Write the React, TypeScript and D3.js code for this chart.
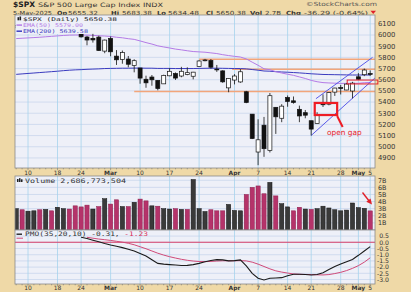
import React from "react";
import * as d3 from "d3";

const dates = [
  "2025-02-06","2025-02-07","2025-02-10","2025-02-11","2025-02-12","2025-02-13","2025-02-14","2025-02-18","2025-02-19","2025-02-20","2025-02-21","2025-02-24","2025-02-25","2025-02-26","2025-02-27","2025-02-28",
  "2025-03-03","2025-03-04","2025-03-05","2025-03-06","2025-03-07","2025-03-10","2025-03-11","2025-03-12","2025-03-13","2025-03-14","2025-03-17","2025-03-18","2025-03-19","2025-03-20","2025-03-21","2025-03-24","2025-03-25","2025-03-26","2025-03-27","2025-03-28","2025-03-31",
  "2025-04-01","2025-04-02","2025-04-03","2025-04-04","2025-04-07","2025-04-08","2025-04-09","2025-04-10","2025-04-11","2025-04-14","2025-04-15","2025-04-16","2025-04-17","2025-04-21","2025-04-22","2025-04-23","2025-04-24","2025-04-25","2025-04-28","2025-04-29","2025-04-30",
  "2025-05-01","2025-05-02","2025-05-05",
];

const opens = [6072,6083,6046,6050,6026,6060,6115,6121,6118,6134,6114,6026,5982,5970,5981,5856,5969,5811,5782,5785,5726,5705,5604,5624,5594,5563,5635,5655,5633,5646,5631,5718,5772,5772,5695,5679,5527,5597,5580,5492,5292,4953,5193,4966,5353,5255,5441,5411,5335,5305,5233,5207,5395,5381,5489,5529,5508,5499,5626,5645,5655];
const highs = [6084,6101,6074,6076,6063,6116,6127,6130,6147,6134,6115,6043,5992,6010,5994,5959,5987,5865,5861,5812,5783,5705,5636,5642,5597,5645,5703,5665,5715,5711,5670,5775,5786,5785,5732,5685,5615,5650,5695,5500,5292,5246,5267,5481,5353,5381,5459,5450,5368,5329,5233,5309,5469,5490,5528,5553,5571,5581,5659,5700,5683];
const lows = [6060,6020,6044,6042,6003,6051,6107,6100,6111,6084,6009,5977,5908,5932,5858,5837,5810,5732,5743,5711,5666,5564,5528,5546,5505,5563,5631,5598,5622,5640,5603,5718,5765,5699,5670,5572,5488,5558,5572,5390,5069,4835,4910,4949,5115,5220,5358,5386,5220,5255,5101,5207,5356,5371,5455,5468,5506,5433,5597,5632,5634];
const closes = [6083.57,6025.99,6066.44,6068.5,6051.97,6115.07,6114.63,6129.58,6144.15,6117.52,6013.13,5983.25,5955.25,5956.06,5861.57,5954.5,5849.72,5778.15,5842.63,5738.52,5770.2,5614.56,5572.07,5599.3,5521.52,5638.94,5675.12,5614.66,5675.29,5662.89,5667.56,5767.57,5776.65,5712.2,5693.31,5580.94,5611.85,5633.07,5670.97,5396.52,5074.08,5062.25,4982.77,5456.9,5268.05,5363.36,5405.97,5396.63,5275.7,5282.7,5158.2,5287.76,5375.86,5484.77,5525.21,5528.75,5560.83,5569.06,5604.14,5686.67,5650.38];
const prevClose = 6061.48;

const ema50 = [5968,5971,5974,5977,5980,5984,5988,5992,5996,5999,6000,6000,5999,5997,5993,5991,5987,5980,5975,5967,5961,5947,5932,5919,5903,5893,5884,5874,5867,5859,5852,5849,5846,5840,5834,5824,5816,5809,5803,5786,5757,5729,5698,5689,5672,5660,5649,5639,5625,5611,5594,5582,5574,5571,5569,5567,5567,5567,5568,5573,5576];
const ema200 = [5648,5652,5656,5660,5664,5668,5672,5676,5681,5685,5688,5690,5693,5695,5697,5700,5701,5702,5703,5703,5704,5704,5703,5703,5701,5701,5701,5700,5700,5700,5700,5701,5702,5703,5703,5702,5701,5700,5700,5697,5691,5685,5678,5676,5672,5669,5667,5664,5661,5657,5653,5650,5647,5646,5645,5644,5643,5642,5642,5642,5642];

const volumes = [3.0,2.85,2.65,2.7,2.85,2.9,2.7,3.2,3.0,2.95,3.4,3.25,3.5,2.95,3.3,4.4,3.65,4.25,3.3,3.3,3.9,4.35,4.1,3.4,3.35,3.0,2.95,3.0,2.9,2.9,7.1,3.0,2.6,2.85,2.7,2.7,3.6,2.75,2.7,5.0,6.0,6.2,5.1,6.7,4.8,3.7,3.25,2.7,3.2,2.95,2.9,3.0,3.35,3.1,2.85,2.7,2.8,3.8,3.15,3.05,2.69];

const pmo: (number | null)[] = [null,null,null,null,null,null,null,null,null,null,null,
  0.40,0.30,0.17,0.05,-0.10,-0.22,-0.32,-0.43,-0.56,-0.70,-0.90,-1.10,-1.40,-1.70,-1.76,-1.80,-1.83,-1.87,-1.86,-1.80,-1.70,-1.57,-1.47,-1.40,-1.42,-1.50,-1.48,-1.42,-1.90,-2.50,-2.90,-3.04,-2.90,-2.88,-2.85,-2.70,-2.58,-2.58,-2.60,-2.64,-2.60,-2.45,-2.20,-1.95,-1.75,-1.56,-1.38,-1.05,-0.70,-0.35];
const pmoSignal: (number | null)[] = [null,null,null,null,null,null,null,null,null,null,null,null,
  0.40,0.33,0.26,0.21,0.15,0.08,0.01,-0.08,-0.20,-0.36,-0.52,-0.70,-0.88,-1.03,-1.16,-1.27,-1.37,-1.45,-1.51,-1.55,-1.56,-1.54,-1.51,-1.49,-1.49,-1.49,-1.48,-1.50,-1.60,-1.76,-1.95,-2.14,-2.30,-2.40,-2.48,-2.55,-2.58,-2.59,-2.60,-2.62,-2.63,-2.60,-2.52,-2.42,-2.28,-2.10,-1.88,-1.60,-1.25];

const tickDates = ["2025-02-10","2025-02-18","2025-02-24","2025-03-03","2025-03-10","2025-03-17","2025-03-24","2025-04-01","2025-04-07","2025-04-14","2025-04-21","2025-04-28","2025-05-01","2025-05-05"];
const tickTexts = ["10","18","24","Mar","10","17","24","Apr","7","14","21","28","May","5"];
const priceTicks = [6100,6000,5900,5800,5700,5600,5500,5400,5300,5200,5100,5000,4900];
const volTicks = [7,6,5,4,3,2,1];
const pmoTicks = [0.5,0,-0.5,-1,-1.5,-2,-2.5,-3];

// header segments
const headerTexts = ["5-May-2025","Op","5655.32","Hi","5683.38","Lo","5634.48","Cl","5650.38","Vol","2.7B","Chg","-36.29 (-0.64%)"];
const headerBold = [false,true,false,true,false,true,false,true,false,true,false,true,false];

// annotations (data coordinates: bar index, price)
const levelValues = [5495, 5783, 5693];
const levelStartIdx = [20, 31, 36.6];
const trendUpper = [[50.8, 5430], [60.4, 5800]];
const trendLower = [[50, 5101], [60.8, 5615]];
const openGapBox = [50.6, 54.4, 5392, 5284];
const mayGapBox = [56.1, 61.3, 5597, 5562];

const TAN = "#efd9a7";
const PLOT_BG = "#eef0f8";
const HGRID = "#c9d5ec";
const VGRID = "#a6d3ec";
const PINK = "#b5336a";
const DARK = "#3a3a3a";
const PURPLE = "#b47be6";
const BLUE = "#3b3bbf";
const ORANGE = "#f2a57a";
const SANS = "DejaVu Sans, Verdana, sans-serif";
const MONO = "DejaVu Sans Mono, Liberation Mono, monospace";

const L = 15, R = 375;
const MAIN = { top: 15, bottom: 168 };
const VOL = { top: 176, bottom: 230 };
const PMOP = { top: 230, bottom: 284 };

// header layout (x start, width)
const headerX = [13, 57, 68, 111, 122, 157, 168, 206, 216, 250, 265, 286, 304];
const headerW = [39, 10, 30, 8, 30, 9, 31, 7, 30, 12, 16, 15, 64];

export default function App() {
  const x = d3.scaleLinear().domain([0, 60]).range([16.2, 370.2]);
  const yM = d3.scaleLinear().domain([4810, 6179]).range([MAIN.bottom, MAIN.top]);
  const yV = d3.scaleLinear().domain([0, 7.6]).range([VOL.bottom, VOL.top]);
  const yP = d3.scaleLinear().domain([-3.36, 0.99]).range([PMOP.bottom, PMOP.top]);

  const tickIdx = tickDates.map((d) => dates.indexOf(d));
  const lineMain = d3.line<number>().x((_, i) => x(i)).y((v) => yM(v));
  const linePmo = d3
    .line<number | null>()
    .defined((v) => v !== null)
    .x((_, i) => x(i))
    .y((v) => yP(v as number));
  const lineXY = d3.line<number[]>().x((p) => x(p[0])).y((p) => yM(p[1]));

  const vgrid = (top: number, bottom: number) =>
    tickIdx.map((i, k) => (
      <line key={"vg" + k} x1={x(i)} x2={x(i)} y1={top} y2={bottom} stroke={VGRID} strokeWidth={0.8} />
    ));

  const dayTicks = (y0: number) =>
    dates.map((_, i) => (
      <line key={"dt" + i} x1={x(i)} x2={x(i)} y1={y0} y2={y0 + (tickIdx.includes(i) ? 2.2 : 1.3)} stroke="#777" strokeWidth={0.6} />
    ));

  const xLabels = (y: number) =>
    tickIdx.map((i, k) => {
      const isMonth = /[A-Za-z]/.test(tickTexts[k]);
      return (
        <text key={"xl" + k} x={x(i)} y={y} fontSize={6} fontFamily={SANS} textAnchor="middle" fontWeight={isMonth ? "bold" : "normal"} fill="#333">
          {tickTexts[k]}
        </text>
      );
    });

  return (
    <svg width={411} height={300} style={{ position: "absolute", left: 0, top: 0, background: "#fff" }}>
      <defs>
        <clipPath id="cMain"><rect x={L} y={MAIN.top} width={R - L} height={MAIN.bottom - MAIN.top} /></clipPath>
        <clipPath id="cVol"><rect x={L} y={VOL.top} width={R - L} height={VOL.bottom - VOL.top} /></clipPath>
        <clipPath id="cPmo"><rect x={L} y={PMOP.top} width={R - L} height={PMOP.bottom - PMOP.top} /></clipPath>
      </defs>
      <rect x={0} y={0} width={411} height={292} fill={TAN} />

      {/* Header */}
      <text x={13} y={7.2} fontSize={7.4} fontWeight="bold" fontFamily={SANS} fill="#222" textLength={22} lengthAdjust="spacingAndGlyphs">$SPX</text>
      <text x={38} y={7} fontSize={6} fontFamily={SANS} fill="#333" textLength={125} lengthAdjust="spacingAndGlyphs">S&amp;P 500 Large Cap Index INDX</text>
      <text x={306} y={6.3} fontSize={5.6} fontFamily={SANS} fill="#555" textLength={71} lengthAdjust="spacingAndGlyphs">©StockCharts.com</text>
      <g fontSize={5.6} fontFamily={SANS} fill="#333">
        {headerTexts.map((t, k) => (
          <text key={"h" + k} x={headerX[k]} y={14.6} fontWeight={headerBold[k] ? "bold" : "normal"} textLength={headerW[k]} lengthAdjust="spacingAndGlyphs">{t}</text>
        ))}
      </g>
      <path d="M370.5,10.8 L376,10.8 L373.2,14.1 Z" fill="#e0202a" />

      {/* Main panel */}
      <rect x={L} y={MAIN.top} width={R - L} height={MAIN.bottom - MAIN.top} fill={PLOT_BG} />
      {priceTicks.map((v) => (
        <line key={"hg" + v} x1={L} x2={R} y1={yM(v)} y2={yM(v)} stroke={HGRID} strokeWidth={0.8} />
      ))}
      {vgrid(MAIN.top, MAIN.bottom)}
      <g clipPath="url(#cMain)">
        {levelValues.map((v, k) => (
          <line key={"lv" + k} x1={x(levelStartIdx[k])} x2={R} y1={yM(v)} y2={yM(v)} stroke={ORANGE} strokeWidth={1.4} />
        ))}
        <path d={lineMain(ema200) || ""} fill="none" stroke={BLUE} strokeWidth={1} />
        <path d={lineMain(ema50) || ""} fill="none" stroke={PURPLE} strokeWidth={1} />
        <path d={lineXY(trendUpper) || ""} fill="none" stroke="#4a4ae6" strokeWidth={0.9} />
        <path d={lineXY(trendLower) || ""} fill="none" stroke="#4a4ae6" strokeWidth={0.9} />
        {dates.map((_, i) => {
          const o = opens[i], c = closes[i];
          const up = c >= o;
          const top = yM(Math.max(o, c));
          const h = Math.max(0.8, Math.abs(yM(o) - yM(c)));
          return (
            <g key={"c" + i}>
              <line x1={x(i)} x2={x(i)} y1={yM(highs[i])} y2={yM(lows[i])} stroke="#111" strokeWidth={0.8} />
              <rect x={x(i) - 2} y={top} width={4} height={h} fill={up ? "#fff" : "#111"} stroke="#111" strokeWidth={0.7} />
            </g>
          );
        })}
      </g>
      {/* gap annotations */}
      <rect x={x(mayGapBox[0])} y={yM(mayGapBox[2])} width={x(mayGapBox[1]) - x(mayGapBox[0])} height={yM(mayGapBox[3]) - yM(mayGapBox[2])} fill="none" stroke="#e8202a" strokeWidth={1} />
      <rect x={x(openGapBox[0])} y={yM(openGapBox[2])} width={x(openGapBox[1]) - x(openGapBox[0])} height={yM(openGapBox[3]) - yM(openGapBox[2])} fill="none" stroke="#ee1c24" strokeWidth={2.2} />
      <line x1={x(openGapBox[1])} y1={yM(openGapBox[3]) + 1} x2={x(openGapBox[1]) + 5.5} y2={yM(openGapBox[3]) + 12} stroke="#ee1c24" strokeWidth={2} />
      <text x={327} y={134.5} fontSize={7.4} fontFamily={SANS} fill="#e8202a">open gap</text>

      {/* main legend (opaque) */}
      <rect x={L + 0.5} y={MAIN.top + 0.5} width={75} height={18.5} fill={PLOT_BG} />
      <rect x={L + 0.5} y={MAIN.top + 0.5} width={105} height={6.5} fill={PLOT_BG} />
      <g>
        <rect x={17.5} y={17.2} width={1.6} height={3.1} fill="#222" />
        <rect x={19.5} y={16.5} width={1.6} height={3.8} fill="#222" />
        <text x={23} y={20.8} fontSize={5.2} fontFamily={MONO} fill="#222" textLength={94} lengthAdjust="spacingAndGlyphs">$SPX (Daily) 5650.38</text>
        <line x1={16.5} x2={22} y1={25.1} y2={25.1} stroke={PURPLE} strokeWidth={1.5} />
        <text x={23} y={26.9} fontSize={5.2} fontFamily={MONO} fill={PURPLE} textLength={60} lengthAdjust="spacingAndGlyphs">EMA(50) 5579.00</text>
        <line x1={16.5} x2={22} y1={31.2} y2={31.2} stroke={BLUE} strokeWidth={1.5} />
        <text x={23} y={33} fontSize={5.2} fontFamily={MONO} fill={BLUE} textLength={65} lengthAdjust="spacingAndGlyphs">EMA(200) 5639.58</text>
      </g>
      <rect x={L} y={MAIN.top} width={R - L} height={MAIN.bottom - MAIN.top} fill="none" stroke="#8a8a8a" strokeWidth={0.8} />
      {priceTicks.map((v) => (
        <text key={"pl" + v} x={378} y={yM(v) + 2.4} fontSize={6.8} fontFamily={SANS} fill="#333">{v}</text>
      ))}
      {dayTicks(MAIN.bottom)}
      {xLabels(174.6)}

      {/* Volume panel */}
      <rect x={L} y={VOL.top} width={R - L} height={VOL.bottom - VOL.top} fill={PLOT_BG} />
      {volTicks.map((v) => (
        <line key={"vh" + v} x1={L} x2={R} y1={yV(v)} y2={yV(v)} stroke={HGRID} strokeWidth={0.8} />
      ))}
      {vgrid(VOL.top, VOL.bottom)}
      <g clipPath="url(#cVol)">
        {volumes.map((v, i) => {
          const prev = i === 0 ? prevClose : closes[i - 1];
          const up = closes[i] >= prev;
          return (
            <rect key={"v" + i} x={x(i) - 2.1} y={yV(v)} width={4.2} height={yV(0) - yV(v)} fill={up ? DARK : PINK} stroke={up ? "#111" : "#8c1d4a"} strokeWidth={0.5} />
          );
        })}
      </g>
      <rect x={17} y={179} width={1.5} height={3} fill="#222" />
      <rect x={19} y={178.2} width={1.5} height={3.8} fill="#222" />
      <rect x={21} y={179.3} width={1.5} height={2.7} fill="#222" />
      <text x={25} y={182.8} fontSize={6.2} fontFamily={MONO} fill="#333" textLength={101} lengthAdjust="spacingAndGlyphs">Volume 2,686,773,504</text>
      <line x1={362.5} y1={192.5} x2={369.5} y2={201.5} stroke="#e0202a" strokeWidth={1.4} />
      <path d="M372,204.5 L366.3,201.8 L370.6,198.5 Z" fill="#e0202a" />
      <rect x={L} y={VOL.top} width={R - L} height={VOL.bottom - VOL.top} fill="none" stroke="#8a8a8a" strokeWidth={0.8} />
      {volTicks.map((v) => (
        <text key={"vl" + v} x={378} y={yV(v) + 2.3} fontSize={6.4} fontFamily={SANS} fill="#333">{v + "B"}</text>
      ))}

      {/* PMO panel */}
      <rect x={L} y={PMOP.top} width={R - L} height={PMOP.bottom - PMOP.top} fill={PLOT_BG} />
      {pmoTicks.map((v) => (
        <line key={"ph" + v} x1={L} x2={R} y1={yP(v)} y2={yP(v)} stroke={HGRID} strokeWidth={0.8} />
      ))}
      {vgrid(PMOP.top, PMOP.bottom)}
      <line x1={L} x2={R} y1={yP(0)} y2={yP(0)} stroke="#d9406a" strokeWidth={1.1} />
      <g clipPath="url(#cPmo)">
        <path d={linePmo(pmoSignal) || ""} fill="none" stroke="#d04a78" strokeWidth={1} />
        <path d={linePmo(pmo) || ""} fill="none" stroke="#1a1a1a" strokeWidth={1.1} />
      </g>
      <line x1={16.5} x2={22} y1={234.2} y2={234.2} stroke="#222" strokeWidth={1.4} />
      <line x1={16.5} x2={23} y1={238.2} y2={238.2} stroke="#d04a78" strokeWidth={1} />
      <text x={25} y={236.3} fontSize={6.2} fontFamily={MONO} fill="#333" textLength={123} lengthAdjust="spacingAndGlyphs">
        PMO(35,20,10) -0.31, <tspan fill="#d9305a">-1.23</tspan>
      </text>
      <rect x={L} y={PMOP.top} width={R - L} height={PMOP.bottom - PMOP.top} fill="none" stroke="#8a8a8a" strokeWidth={0.8} />
      {pmoTicks.map((v) => (
        <text key={"pt" + v} x={389} y={yP(v) + 2.3} fontSize={6.2} fontFamily={SANS} fill="#333" textAnchor="end">{v.toFixed(1)}</text>
      ))}
      {dayTicks(PMOP.bottom)}
      {xLabels(289.5)}
    </svg>
  );
}
